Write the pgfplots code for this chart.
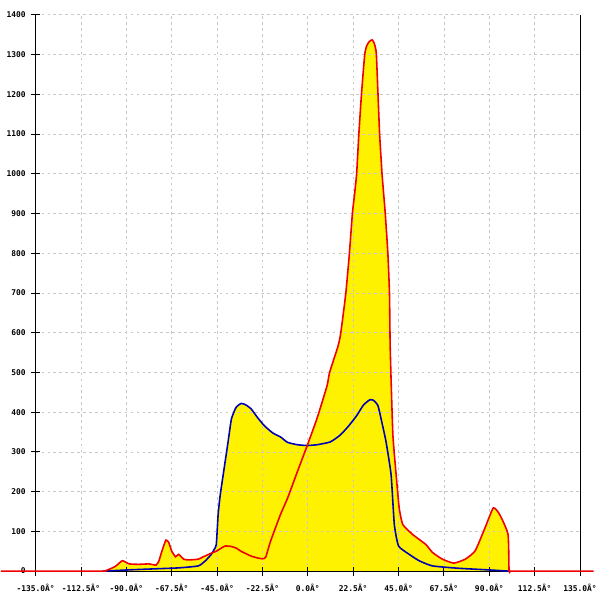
\documentclass[border=0pt]{standalone}
\usepackage{pgfplots}
\pgfplotsset{compat=1.18}
\usepackage{pgfplotstable}
\usepackage{fontspec}
\setmonofont{DejaVu Sans Mono}
\definecolor{redline}{RGB}{240,0,0}
\definecolor{blueline}{RGB}{0,0,180}
\definecolor{gridc}{RGB}{200,200,200}

\pgfplotstableread{
x y
-152.3 0
-102.0 0
-100.8 0
-98.3 5
-95.4 12
-92.0 26
-88.6 18
-83.7 17
-78.8 18
-75.3 15
-73.9 25
-72.4 50
-70.4 78
-69.0 72
-67.5 50
-65.6 36
-64.1 42
-61.6 30
-59.2 28
-54.3 30
-51.8 36
-47.9 45
-45.4 50
-43.5 56
-41.0 63
-38.1 62
-35.6 58
-33.2 50
-28.3 38
-24.9 33
-22.4 31
-20.9 35
-18.5 75
-13.6 142
-10.1 183
-5.2 250
-0.3 316
4.6 385
9.5 466
10.8 500
14.9 565
16.3 598
18.8 698
20.6 799
22.1 900
23.2 950
24.2 1000
25.3 1100
26.6 1200
28.2 1300
29.2 1322
30.5 1333
31.9 1337
32.8 1330
33.5 1318
34.0 1300
34.8 1200
35.6 1100
36.8 1000
37.6 950
38.4 900
39.7 799
40.5 698
40.8 575
41.3 480
42.2 341
43.8 242
45.3 159
47.1 117
52.0 92
58.5 67
61.8 47
66.7 30
72.4 20
78.1 30
83.0 51
87.9 109
92.0 159
95.2 142
99.3 92
99.8 0
100.4 0
101.5 0
141.8 0
}\redtab

\pgfplotstableread{
x y
-102.0 0
-100.8 0
-88.6 3
-73.9 6
-64.1 8
-54.3 13
-50.8 26
-47.9 42
-46.4 55
-45.4 67
-44.5 142
-43.5 190
-42.0 242
-39.6 324
-37.9 383
-35.6 412
-33.0 422
-30.7 418
-28.1 408
-24.9 386
-21.6 366
-17.5 348
-13.4 337
-10.1 324
-5.2 318
-0.3 316
4.6 318
11.1 325
16.0 342
20.2 365
24.2 391
27.6 418
30.7 431
32.5 430
34.8 416
36.9 370
38.8 325
41.3 242
42.9 117
45.0 63
50.3 42
55.2 26
61.8 13
74.8 7
91.2 2.5
99.2 0
100.4 0
}\bluetab

\begin{document}
\begin{tikzpicture}
\begin{axis}[
  name=ax,
  set layers,
  scale only axis,
  width=550pt, height=562pt,
  xmin=-135, xmax=135, ymin=0, ymax=1400,
  clip=false,
  separate axis lines,
  axis x line*=bottom,
  axis y line*=left,
  axis line style={black, line width=0.9pt, -},
  xtick={-135,-112.5,-90,-67.5,-45,-22.5,0,22.5,45,67.5,90,112.5,135},
  xticklabels={-135.0Â°,-112.5Â°,-90.0Â°,-67.5Â°,-45.0Â°,-22.5Â°,0.0Â°,22.5Â°,45.0Â°,67.5Â°,90.0Â°,112.5Â°,135.0Â°},
  ytick={0,100,...,1400},
  tick align=center,
  major tick length=9pt,
  tick style={black, line width=0.9pt},
  ticklabel style={font=\fontsize{8}{9}\ttfamily\bfseries},
  xticklabel style={yshift=-5pt},
  yticklabel style={xshift=-2pt, /pgf/number format/assume math mode=true, /pgf/number format/set thousands separator={}},
  grid=major,
  major grid style={gridc, line width=0.7pt, dash pattern=on 2.5pt off 3.5pt},
]
\addplot[fill=yellow, draw=none, on layer=axis background, smooth, tension=0.3] table {\redtab} \closedcycle;
\addplot[fill=yellow, draw=none, on layer=axis background, smooth, tension=0.3] table {\bluetab} \closedcycle;
\addplot[blueline, line width=1.6pt, smooth, tension=0.3] table {\bluetab};
\addplot[redline, line width=1.6pt, smooth, tension=0.3] table {\redtab};
\draw[black, line width=0.9pt] (axis cs:135,0) -- (axis cs:135,1400);
\end{axis}
\path (ax.south west) ++(-35pt,-23pt);
\path (ax.north east) ++(15pt,15pt);
\end{tikzpicture}
\end{document}
